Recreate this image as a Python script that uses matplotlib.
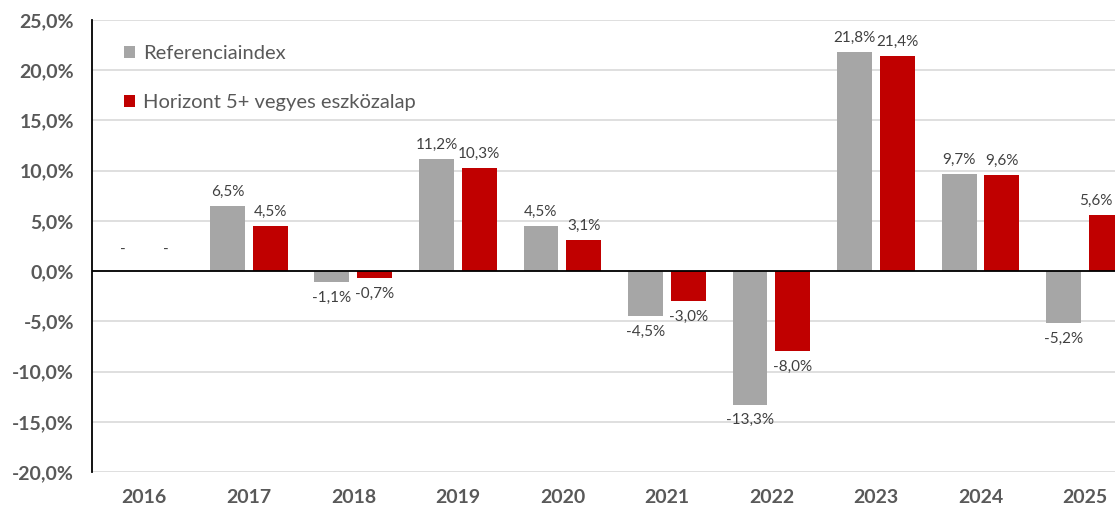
import numpy as np
import matplotlib
matplotlib.use("Agg")
import matplotlib.pyplot as plt
from matplotlib.ticker import FuncFormatter

years = ["2016", "2017", "2018", "2019", "2020", "2021", "2022", "2023", "2024", "2025"]
ref_index = [np.nan, 6.5, -1.1, 11.2, 4.5, -4.5, -13.3, 21.8, 9.7, -5.2]
fund = [np.nan, 4.5, -0.7, 10.3, 3.1, -3.0, -8.0, 21.4, 9.6, 5.6]
series_names = ["Referenciaindex", "Horizont 5+ vegyes eszközalap"]

GRAY = "#a6a6a6"
RED = "#c00000"
TXT = "#595959"
LBL = "#404040"

plt.rcParams["font.family"] = ["Lato", "DejaVu Sans"]

fig = plt.figure(figsize=(11.15, 5.08), dpi=100)
ax = fig.add_axes([92 / 1115, 1 - 472 / 508, 1 - 92 / 1115, (472 - 20) / 508])

x = np.arange(len(years))
w = 0.334
off = 0.205
x_right = 9 + 30 / 104.7


def pct(v):
    return f"{v:.1f}%".replace(".", ",")


for vals, col, sgn, name in [(ref_index, GRAY, -1, series_names[0]), (fund, RED, 1, series_names[1])]:
    v = np.nan_to_num(np.array(vals, dtype=float))
    ax.bar(x + sgn * off, v, width=w, color=col, label=name, zorder=3)
    for xi, val in zip(x + sgn * off, vals):
        if np.isnan(val):
            ax.annotate("-", (xi, 0), xytext=(0, 10), textcoords="offset points",
                        ha="center", va="bottom", fontsize=11, color=LBL)
            continue
        # labels that would be clipped on the right are pulled inside
        ha, xt = "center", xi
        if xi + 0.2 > x_right:
            ha, xt = "right", x_right
        if val >= 0:
            ax.annotate(pct(val), (xt, val), xytext=(-2 if ha == "right" else 0, 5),
                        textcoords="offset points", ha=ha, va="bottom",
                        fontsize=11, color=LBL)
        else:
            ax.annotate(pct(val), (xt, val), xytext=(0, -6),
                        textcoords="offset points", ha=ha, va="top",
                        fontsize=11, color=LBL)

ax.set_ylim(-20, 25)
ax.set_yticks(np.arange(-20, 26, 5))
ax.yaxis.set_major_formatter(FuncFormatter(lambda v, _: pct(v)))
ax.set_xlim(-0.5, x_right)
ax.set_xticks(x)
ax.set_xticklabels(years)
ax.tick_params(axis="both", length=0, labelsize=14, colors=TXT)
ax.tick_params(axis="y", pad=13)
ax.tick_params(axis="x", pad=12)
for t in ax.get_xticklabels() + ax.get_yticklabels():
    t.set_fontweight("bold")

ax.grid(axis="y", color="#d9d9d9", linewidth=1.2, zorder=0)
ax.axhline(0, color="black", linewidth=1.3, zorder=4)
for s in ["top", "right", "bottom"]:
    ax.spines[s].set_visible(False)
ax.spines["left"].set_color("black")
ax.spines["left"].set_linewidth(1.3)

leg = ax.legend(loc="upper left", bbox_to_anchor=(0.023, 0.962), frameon=False,
                fontsize=14.5, handlelength=0.55, handleheight=0.55, handletextpad=0.4,
                labelspacing=1.6, borderaxespad=0)
for t in leg.get_texts():
    t.set_color(TXT)

fig.savefig("out.png", dpi=100)
